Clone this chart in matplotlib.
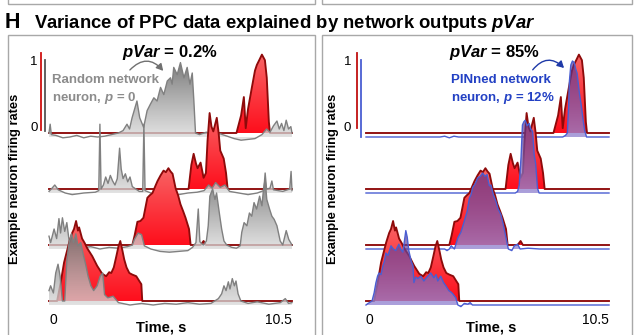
import numpy as np
import matplotlib
matplotlib.use("Agg")
import matplotlib.pyplot as plt
from matplotlib.patches import Polygon, Rectangle, FancyArrowPatch

plt.rcParams['font.family'] = ['Liberation Sans', 'DejaVu Sans']
plt.rcParams['mathtext.fontset'] = 'custom'
plt.rcParams['mathtext.it'] = 'Liberation Sans:italic:bold'
plt.rcParams['mathtext.rm'] = 'Liberation Sans:bold'
plt.rcParams['mathtext.bf'] = 'Liberation Sans:bold'

# ---------------- data (time s, normalised firing rate) ----------------
T_TICKS = [0, 10.5]
T_LABELS = ["0", "10.5"]

# PPC data (red), rows top -> bottom
RED1 = [(0, 0), (8.10, 0), (8.30, 0.22), (8.42, 0.45), (8.50, 0.06), (8.60, 0.30), (8.76, 0.56), (8.90, 0.78),
        (8.98, 0.85), (9.10, 0.92), (9.20, 0.98), (9.33, 0.91), (9.41, 0.69), (9.50, 0.14), (9.55, 0), (10.5, 0)]
RED2 = [(0, 0), (6.03, 0), (6.15, 0.30), (6.25, 0.44), (6.35, 0.32), (6.42, 0.26), (6.55, 0.33), (6.68, 0.14),
        (6.78, 0.20), (6.85, 0.60), (6.94, 0.95), (7.02, 0.78), (7.10, 0.72), (7.25, 0.89), (7.33, 0.70),
        (7.40, 0.48), (7.55, 0.38), (7.65, 0.20), (7.72, 0), (10.5, 0)]
RED3 = [(0, 0), (3.60, 0), (3.70, 0.12), (3.82, 0.29), (3.95, 0.30), (4.08, 0.34), (4.25, 0.59), (4.35, 0.62),
        (4.47, 0.65), (4.60, 0.74), (4.69, 0.80), (4.82, 0.87), (4.95, 0.93), (5.05, 0.91), (5.16, 0.96),
        (5.25, 0.92), (5.34, 0.89), (5.47, 0.71), (5.58, 0.62), (5.68, 0.51), (5.80, 0.42), (5.90, 0.34),
        (6.05, 0.20), (6.12, 0), (6.55, 0), (6.68, 0.05), (6.78, 0), (10.5, 0)]
RED4 = [(0, 0), (0.35, 0), (0.50, 0.22), (0.65, 0.48), (0.87, 0.73), (1.00, 0.85), (1.08, 0.90), (1.17, 1.00),
        (1.25, 0.88), (1.30, 0.92), (1.43, 0.78), (1.55, 0.72), (1.65, 0.66), (1.87, 0.56), (2.08, 0.44),
        (2.30, 0.34), (2.47, 0.31), (2.60, 0.36), (2.69, 0.35), (2.80, 0.42), (2.91, 0.56), (3.00, 0.68),
        (3.08, 0.75), (3.18, 0.62), (3.25, 0.52), (3.35, 0.42), (3.47, 0.35), (3.60, 0.33), (3.77, 0.31),
        (3.90, 0.25), (3.99, 0.21), (4.03, 0), (10.5, 0)]

# Random network neurons (grey)
GREY1 = [(0, 0.05), (0.05, 0.16), (0.10, 0.03), (0.30, 0.02), (0.60, -0.01), (0.90, 0.0), (1.20, 0.02),
         (1.50, -0.01), (1.80, 0.01), (2.10, 0.0), (2.40, 0.01), (2.70, 0.03), (3.00, 0.05), (3.20, 0.08),
         (3.37, 0.16), (3.48, 0.10), (3.59, 0.24), (3.80, 0.45), (3.92, 0.24), (4.09, 0.12), (4.24, 0.33),
         (4.38, 0.41), (4.53, 0.49), (4.67, 0.45), (4.82, 0.62), (4.96, 0.53), (5.11, 0.70), (5.25, 0.74),
         (5.32, 0.66), (5.39, 0.87), (5.54, 0.78), (5.68, 0.93), (5.83, 0.74), (5.97, 0.87), (6.09, 0.66),
         (6.19, 0.80), (6.26, 0.45), (6.33, 0.05), (6.50, 0.03), (6.80, 0.06), (7.10, 0.02), (7.40, 0.04),
         (7.70, 0.01), (8.00, -0.02), (8.30, -0.04), (8.60, -0.03), (8.90, -0.02), (9.20, 0.03), (9.40, 0.10),
         (9.55, 0.06), (9.70, 0.14), (9.85, 0.20), (9.95, 0.10), (10.05, 0.17), (10.15, 0.08), (10.25, 0.21),
         (10.35, 0.10), (10.45, 0.13), (10.5, 0.05)]
GREY2 = [(0, 0.02), (0.10, 0.05), (0.25, 0.10), (0.40, 0.04), (0.70, 0.0), (1.00, -0.02), (1.50, 0.0),
         (2.00, 0.01), (2.15, 0.03), (2.20, 0.86), (2.25, 0.05), (2.35, 0.10), (2.45, 0.20), (2.55, 0.12),
         (2.65, 0.22), (2.75, 0.15), (2.85, 0.10), (2.95, 0.18), (3.05, 0.56), (3.12, 0.30), (3.20, 0.18),
         (3.30, 0.24), (3.40, 0.14), (3.50, 0.20), (3.60, 0.08), (3.75, 0.05), (3.90, 0.02), (4.05, 0.02),
         (4.10, 0.86), (4.15, 0.03), (4.40, 0.0), (4.80, -0.02), (5.20, -0.03), (5.60, -0.02), (6.00, 0.0),
         (6.40, 0.01), (6.70, 0.03), (6.90, 0.10), (7.05, 0.06), (7.20, 0.13), (7.40, 0.07), (7.60, 0.10),
         (7.80, 0.02), (8.20, 0.0), (8.60, -0.02), (9.00, 0.0), (9.28, 0.03), (9.34, 0.25), (9.40, 0.05),
         (9.55, 0.06), (9.63, 0.15), (9.70, 0.04), (10.10, 0.02), (10.40, 0.05), (10.46, 0.27), (10.5, 0.03)]
GREY3 = [(0, 0.16), (0.07, 0.08), (0.22, 0.25), (0.33, 0.13), (0.43, 0.38), (0.50, 0.20), (0.58, 0.39),
         (0.68, 0.22), (0.77, 0.33), (0.87, 0.10), (1.00, 0.03), (1.40, 0.01), (1.80, 0.03), (2.20, 0.0),
         (2.60, 0.02), (3.00, 0.01), (3.40, 0.03), (3.60, 0.05), (3.69, 0.12), (3.85, 0.20), (4.00, 0.18),
         (4.12, 0.04), (4.40, 0.0), (4.80, -0.03), (5.20, -0.04), (5.60, -0.03), (6.00, -0.02), (6.20, 0.02),
         (6.35, 0.08), (6.45, 0.50), (6.52, 0.09), (6.67, 0.05), (6.80, 0.10), (6.88, 0.29), (6.95, 0.66),
         (7.07, 0.75), (7.17, 0.62), (7.24, 0.70), (7.36, 0.45), (7.46, 0.25), (7.56, 0.10), (7.68, 0.05),
         (7.90, 0.02), (8.10, 0.01), (8.26, 0.04), (8.33, 0.21), (8.43, 0.33), (8.55, 0.29), (8.66, 0.45),
         (8.76, 0.41), (8.86, 0.58), (8.97, 0.50), (9.10, 0.66), (9.20, 0.54), (9.27, 0.75), (9.34, 0.87),
         (9.41, 0.62), (9.53, 0.50), (9.63, 0.41), (9.73, 0.37), (9.85, 0.29), (9.99, 0.10), (10.10, 0.05),
         (10.25, 0.23), (10.36, 0.12), (10.5, 0.05)]
GREY4 = [(0, 0.18), (0.07, 0.24), (0.19, 0.15), (0.29, 0.40), (0.39, 0.51), (0.48, 0.36), (0.58, 0.05),
         (0.68, 0.05), (0.77, 0.55), (0.87, 0.78), (0.97, 0.89), (1.06, 0.78), (1.16, 0.89), (1.25, 0.74),
         (1.37, 0.78), (1.49, 0.62), (1.59, 0.50), (1.69, 0.36), (1.81, 0.24), (1.93, 0.18), (2.08, 0.24),
         (2.21, 0.36), (2.32, 0.40), (2.40, 0.13), (2.54, 0.09), (2.77, 0.11), (3.00, 0.03), (3.50, 0.0),
         (4.00, 0.02), (4.50, 0.0), (5.00, 0.02), (5.50, 0.01), (6.00, 0.03), (6.50, 0.01), (7.00, 0.02),
         (7.32, 0.08), (7.46, 0.14), (7.56, 0.24), (7.65, 0.18), (7.75, 0.29), (7.82, 0.20), (7.92, 0.33),
         (8.01, 0.24), (8.08, 0.30), (8.17, 0.14), (8.29, 0.05), (8.60, 0.02), (9.00, 0.04), (9.50, 0.01),
         (10.00, 0.03), (10.21, 0.08), (10.35, 0.02), (10.5, 0.03)]

# PINned network neurons (blue)
BLUE1 = [(0, 0), (3.20, 0), (3.40, 0.01), (3.60, -0.01), (3.80, 0.01), (4.00, 0), (5.00, 0), (8.50, 0),
         (8.62, 0.02), (8.70, 0.05), (8.75, 0.35), (8.79, 0.70), (8.85, 0.90), (8.92, 0.95), (9.00, 0.93),
         (9.06, 0.85), (9.12, 0.80), (9.22, 0.55), (9.30, 0.40), (9.38, 0.22), (9.45, 0.08), (9.53, 0), (10.5, 0)]
BLUE2 = [(0, 0), (6.45, 0), (6.55, 0.02), (6.62, 0.10), (6.70, 0.45), (6.76, 0.85), (6.82, 0.89), (6.88, 0.91),
         (6.96, 0.84), (7.05, 0.87), (7.12, 0.80), (7.20, 0.77), (7.27, 0.47), (7.33, 0.37), (7.41, 0.06),
         (7.48, 0), (10.5, 0)]
BLUE3 = [(0, 0), (3.40, 0), (3.50, -0.02), (3.60, 0.0), (3.68, 0.04), (3.82, 0.0), (3.97, 0.14), (4.10, 0.21),
         (4.25, 0.35), (4.37, 0.47), (4.47, 0.64), (4.54, 0.68), (4.61, 0.77), (4.71, 0.81), (4.83, 0.89),
         (4.94, 0.91), (5.04, 0.95), (5.14, 0.91), (5.23, 0.93), (5.33, 0.79), (5.40, 0.80), (5.50, 0.68),
         (5.61, 0.60), (5.71, 0.50), (5.83, 0.43), (5.93, 0.31), (6.05, 0.14), (6.15, 0.0), (6.30, -0.02),
         (6.41, 0.04), (6.55, 0.06), (6.66, 0.0), (7.00, 0.01), (7.50, 0), (10.5, 0)]
BLUE4 = [(0, 0.0), (0.09, 0.02), (0.26, 0.05), (0.35, 0.15), (0.43, 0.28), (0.50, 0.36), (0.56, 0.40),
         (0.65, 0.38), (0.73, 0.49), (0.80, 0.55), (0.86, 0.65), (0.95, 0.62), (1.08, 0.74), (1.18, 0.70),
         (1.29, 0.68), (1.35, 0.72), (1.42, 0.76), (1.50, 0.70), (1.59, 0.66), (1.66, 0.80), (1.72, 0.93),
         (1.78, 0.85), (1.85, 0.68), (1.95, 0.55), (2.03, 0.49), (2.07, 0.28), (2.15, 0.35), (2.24, 0.33),
         (2.37, 0.36), (2.50, 0.30), (2.58, 0.33), (2.67, 0.36), (2.80, 0.40), (2.93, 0.34), (3.03, 0.38),
         (3.10, 0.30), (3.23, 0.36), (3.35, 0.28), (3.45, 0.24), (3.58, 0.18), (3.68, 0.16), (3.75, 0.14),
         (3.88, 0.09), (3.97, 0.0), (4.10, -0.02), (4.25, 0.02), (4.40, 0.01), (4.50, 0.03), (4.60, 0.0),
         (10.5, 0.0)]

RED_ROWS = [RED1, RED2, RED3, RED4]
GREY_ROWS = [GREY1, GREY2, GREY3, GREY4]
BLUE_ROWS = [BLUE1, BLUE2, BLUE3, BLUE4]

# ---------------- layout ----------------
W, H = 638, 335
fig = plt.figure(figsize=(W / 100, H / 100), dpi=100)


def fx(px):
    return px / W


def fy(py):
    return 1 - py / H


ROW_STEP = 0.70      # vertical offset between rows (normalised units)
MODEL_OFF = -0.05    # model traces sit slightly under the data baseline
YLIM = (-2.2375, 1.1625)

RED_LINE = '#8e0a0a'
GREY_LINE = '#808080'
BLUE_LINE = '#4a5ed2'

# panel frames
for x0, x1 in [(8, 315), (322, 632)]:
    fig.add_artist(Rectangle((fx(x0), fy(345)), fx(x1) - fx(x0), fy(35) - fy(345),
                             transform=fig.transFigure, fill=False, ec='#a8a8a8', lw=1.0))
    fig.add_artist(Rectangle((fx(x0), fy(4)), fx(x1) - fx(x0), fy(-20) - fy(4),
                             transform=fig.transFigure, fill=False, ec='#a8a8a8', lw=1.0))


def grad_fill(ax, pairs, base, top_rgba, bot_rgba, z, lo=-0.1, hi=1.05):
    t = [p[0] for p in pairs]
    v = [p[1] for p in pairs]
    verts = [(t[0], base)] + [(ti, base + vi) for ti, vi in zip(t, v)] + [(t[-1], base)]
    poly = Polygon(verts, closed=True, fc='none', ec='none')
    ax.add_patch(poly)
    n = 256
    f = np.linspace(0, 1, n)[:, None]
    top = np.array(top_rgba)[None, :]
    bot = np.array(bot_rgba)[None, :]
    img = (top * (1 - f) + bot * f)[:, None, :]
    im = ax.imshow(img, extent=(0, 10.5, base + lo, base + hi), origin='upper', aspect='auto',
                   zorder=z, interpolation='bilinear')
    im.set_clip_path(poly)


def trace_line(ax, pairs, base, color, lw, z):
    t = [p[0] for p in pairs]
    v = [base + p[1] for p in pairs]
    ax.plot(t, v, color=color, lw=lw, zorder=z, solid_joinstyle='round', clip_on=False)


RED_TOP = (0.97, 0.42, 0.42, 1.0)
RED_BOT = (1.0, 0.02, 0.08, 1.0)
GREY_TOP = (0.36, 0.36, 0.36, 0.9)
GREY_BOT = (0.90, 0.90, 0.90, 0.75)
BLUE_TOP = (0.30, 0.12, 0.50, 0.62)
BLUE_BOT = (0.62, 0.58, 0.86, 0.82)

axes = []
for px_left, model_rows, mtop, mbot, mline in [(49, GREY_ROWS, GREY_TOP, GREY_BOT, GREY_LINE),
                                               (366, BLUE_ROWS, BLUE_TOP, BLUE_BOT, BLUE_LINE)]:
    ax = fig.add_axes([fx(px_left), fy(312), 243 / W, (312 - 40) / H])
    for r in range(4):
        base = -r * ROW_STEP
        z = 2 + r
        grad_fill(ax, RED_ROWS[r], base, RED_TOP, RED_BOT, z)
        trace_line(ax, RED_ROWS[r], base, RED_LINE, 1.35, z + 0.1)
        grad_fill(ax, model_rows[r], base + MODEL_OFF, mtop, mbot, z + 0.2)
        trace_line(ax, model_rows[r], base + MODEL_OFF, mline, 1.0, z + 0.3)
    ax.set_xlim(0, 10.5)
    ax.set_ylim(*YLIM)
    for s in ax.spines.values():
        s.set_visible(False)
    ax.set_yticks([])
    ax.set_xticks(T_TICKS)
    ax.set_xticklabels(T_LABELS, fontsize=10)
    ax.tick_params(axis='x', length=0, pad=1)
    labs = ax.get_xticklabels()
    labs[0].set_ha('left')
    labs[1].set_ha('right')
    ax.patch.set_alpha(0)
    axes.append(ax)

axL, axR = axes

# scale bars
axL.plot([-0.35, -0.35], [0.04, 1.0], color='#d01010', lw=1.3, clip_on=False)
axL.plot([-0.19, -0.19], [0.02, 0.91], color='#555555', lw=1.3, clip_on=False)
axR.plot([-0.39, -0.39], [0.06, 1.0], color='#c01010', lw=1.3, clip_on=False)
axR.plot([-0.22, -0.22], [-0.05, 0.91], color='#4a5ed2', lw=1.3, clip_on=False)
for ax, xl in [(axL, -0.48), (axR, -0.65)]:
    ax.text(xl, 0.89, "1", ha='right', va='center', fontsize=9.5, clip_on=False)
    ax.text(xl, 0.06, "0", ha='right', va='center', fontsize=9.5, clip_on=False)

# titles / texts
fig.text(fx(5), fy(28), "H", fontsize=15.5, fontweight='bold', ha='left', va='baseline')
fig.text(fx(34), fy(28), "Variance of PPC data explained by network outputs $pVar$",
         fontsize=13.3, fontweight='bold', ha='left', va='baseline')
fig.text(fx(170), fy(57), "$pVar$ = 0.2%", fontsize=12, fontweight='bold', ha='center', va='baseline')
fig.text(fx(495), fy(57), "$pVar$ = 85%", fontsize=12, fontweight='bold', ha='center', va='baseline')

fig.text(fx(52), fy(83), "Random network", fontsize=9.5, fontweight='bold', color='#8c8c8c',
         ha='left', va='baseline')
fig.text(fx(52), fy(101), "neuron, $p$ = 0", fontsize=9.5, fontweight='bold', color='#8c8c8c',
         ha='left', va='baseline')
fig.text(fx(451), fy(83), "PINned network", fontsize=9.5, fontweight='bold', color='#2341c4',
         ha='left', va='baseline')
fig.text(fx(451), fy(101), "neuron, $p$ = 12%", fontsize=9.5, fontweight='bold', color='#2341c4',
         ha='left', va='baseline')

for xc in (15, 333):
    fig.text(fx(xc), fy(179), "Example neuron firing rates", rotation=90, fontsize=9.3,
             fontweight='bold', ha='center', va='center')
for xc in (161, 491):
    fig.text(fx(xc), fy(328), "Time, s", fontsize=10.5, fontweight='bold', ha='center', va='center')

# curved arrows
fig.add_artist(FancyArrowPatch((fx(128), fy(72)), (fx(165), fy(73)), transform=fig.transFigure,
                               connectionstyle='arc3,rad=-0.6',
                               arrowstyle='-|>,head_length=4,head_width=2.2',
                               color='#707070', lw=1.0))
fig.add_artist(FancyArrowPatch((fx(531), fy(72)), (fx(566), fy(70)), transform=fig.transFigure,
                               connectionstyle='arc3,rad=-0.6',
                               arrowstyle='-|>,head_length=4,head_width=2.2',
                               color='#1f3aa8', lw=1.0))

fig.savefig('out.png', dpi=100)
